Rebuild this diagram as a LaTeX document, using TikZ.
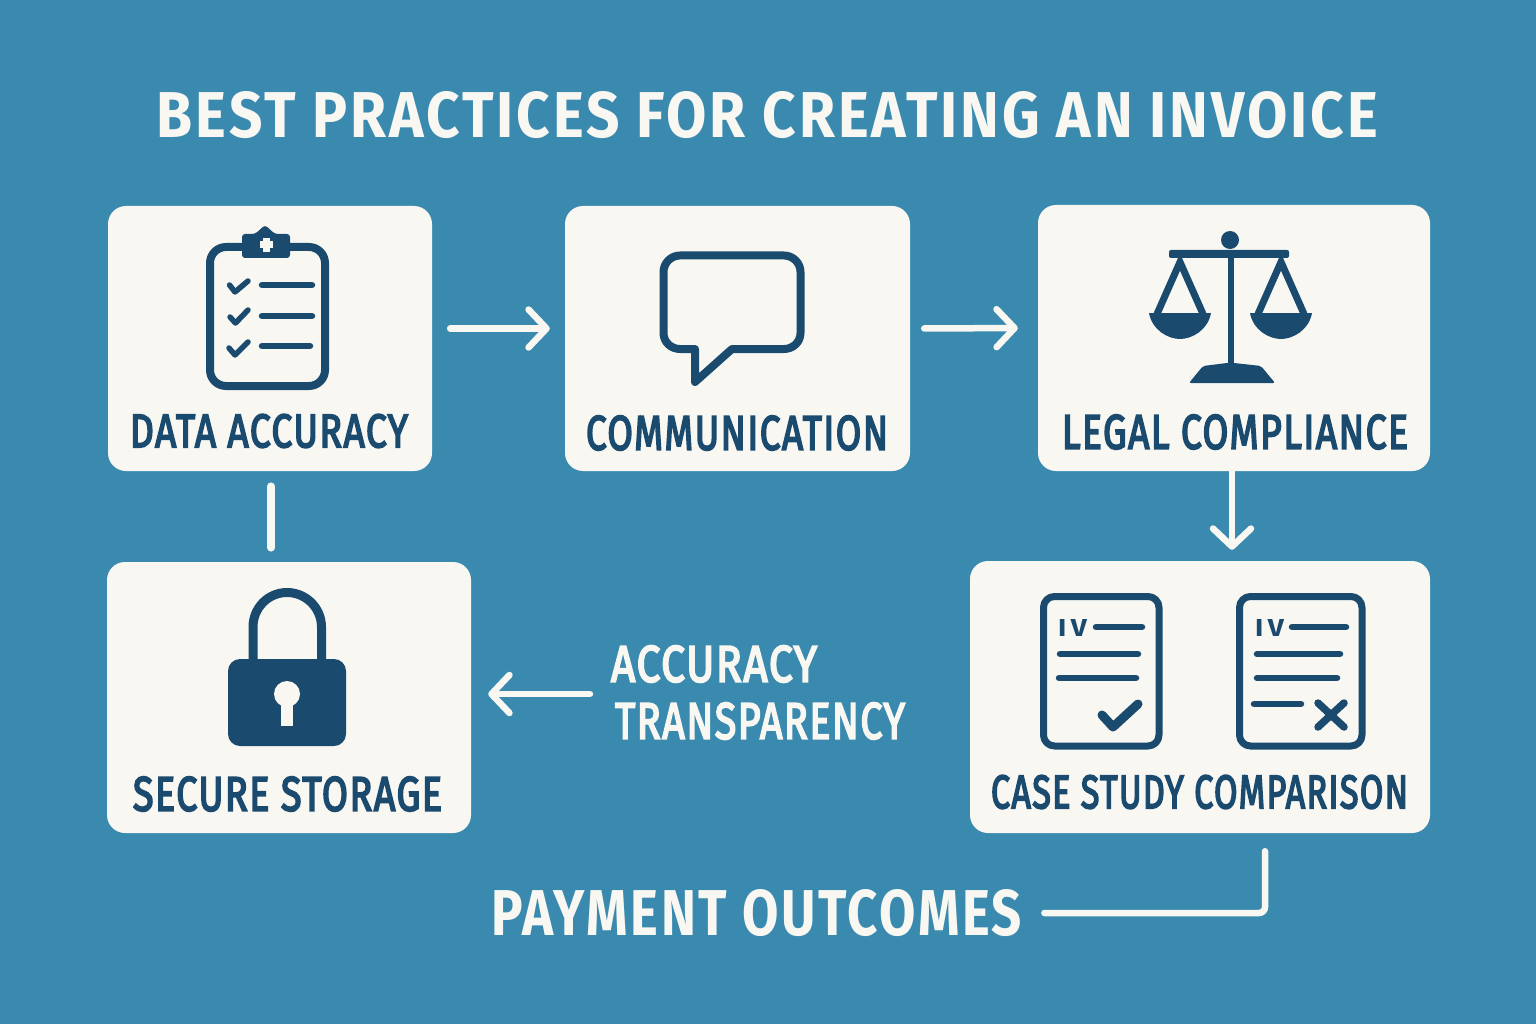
\documentclass[tikz,border=0pt]{standalone}
\usepackage{fontspec}
\usepackage{graphicx}
\setmainfont{Fira Sans}
\newfontfamily\lblfont[LetterSpace=4,FakeBold=4]{Fira Sans}
\newfontfamily\headfont[LetterSpace=5]{Fira Sans}
\usetikzlibrary{arrows.meta}
\definecolor{bgblue}{HTML}{3A8AB0}
\definecolor{paper}{HTML}{F8F7F2}
\definecolor{ink}{HTML}{1B4A6F}
\newcommand{\lbl}[3]{\resizebox{#1pt}{#2pt}{\lblfont #3}}
\newcommand{\hdl}[3]{\resizebox{#1pt}{#2pt}{\headfont\bfseries #3}}
\tikzset{
  box/.style={fill=paper,rounded corners=18pt,inner sep=0pt},
  inktext/.style={text=ink,inner sep=0pt},
  whitetext/.style={text=paper,inner sep=0pt},
  conn/.style={draw=paper,line width=6.5pt,line cap=round,line join=round},
  arrowed/.style={conn,-{Straight Barb[length=18pt,width=38pt,line width=6.5pt,round]}},
  thick line/.style={draw=ink,line width=7pt,line cap=round,line join=round},
  thin line/.style={draw=ink,line width=6.5pt,line cap=round,line join=round},
  check line/.style={draw=ink,line width=5.5pt,line cap=round,line join=round},
}
\begin{document}
\begin{tikzpicture}[x=1pt,y=-1pt]
\fill[bgblue] (0,0) rectangle (1536,1024);
\useasboundingbox (0,0) rectangle (1536,1024);

\node[whitetext] (title) at (767.5,115) {\hdl{1221}{46}{BEST PRACTICES FOR CREATING AN INVOICE}};

% boxes
\node[box,minimum width=324pt,minimum height=265pt] (data) at (270,338.5) {};
\node[box,minimum width=345pt,minimum height=265pt] (comm) at (737.5,338.5) {};
\node[box,minimum width=392pt,minimum height=266pt] (legal) at (1234,338) {};
\node[box,minimum width=364pt,minimum height=271pt] (secure) at (289,697.5) {};
\node[box,minimum width=460pt,minimum height=272pt] (case) at (1200,697) {};

% box labels
\node[inktext] (datal) at (269,431) {\lbl{278}{33}{DATA ACCURACY}};
\node[inktext] (comml) at (737,433) {\lbl{302}{34}{COMMUNICATION}};
\node[inktext] (legall) at (1235,432) {\lbl{346}{34}{LEGAL COMPLIANCE}};
\node[inktext] (securel) at (287.5,794) {\lbl{309}{34}{SECURE STORAGE}};
\node[inktext] (casel) at (1199.5,792) {\lbl{417}{33}{CASE STUDY COMPARISON}};

% free labels
\node[whitetext] (acc) at (714,664) {\lbl{206}{36}{ACCURACY}};
\node[whitetext] (trans) at (760,721) {\lbl{290}{36}{TRANSPARENCY}};
\node[whitetext] (pay) at (757,913) {\hdl{530}{46}{PAYMENT OUTCOMES}};
\coordinate (labelstart) at (590,694);

% connectors
\draw[arrowed,shorten <=18pt,shorten >=15pt] ([yshift=10pt]data.east) -- ([yshift=10pt]comm.west);
\draw[arrowed,shorten <=14pt,shorten >=20pt] ([yshift=10pt]comm.east) -- ([yshift=10pt]legal.west);
\draw[arrowed,shorten >=11pt] ([xshift=-2pt]legal.south) -- ([xshift=-2pt]legal.south |- case.north);
\draw[conn,line width=7.5pt,shorten <=15pt,shorten >=14pt] ([xshift=1pt]data.south) -- ([xshift=1pt]data.south |- secure.north);
\draw[arrowed,shorten >=17pt] (labelstart) -- (labelstart -| secure.east);
\draw[conn,rounded corners=6pt,shorten <=18pt,shorten >=22pt] ([xshift=65pt]case.south) |- (pay.east);

% clipboard
\draw[thick line,line width=8pt,rounded corners=16pt] (210,247) rectangle (325,386);
\fill[ink,rounded corners=3pt] (242,234) -- (255,234) -- (265,225) -- (275,234) -- (290,234) -- (290,258) -- (242,258) -- cycle;
\fill[paper] (263,238) rectangle (269.5,252);
\fill[paper] (259.5,241.5) rectangle (273,248.5);
\draw[check line] (229.5,285) -- (235,292) -- (248,281);
\draw[check line] (230,317) -- (235.5,323) -- (248,310);
\draw[check line] (229,348) -- (235,355) -- (248,342);
\draw[thin line] (262,285) -- (312,285);
\draw[thin line] (262,316) -- (312,316);
\draw[thin line] (262,346) -- (310,346);

% speech bubble
\draw[thick line,line width=8pt] (680,255.5) -- (784,255.5) .. controls (793,255.5) and (800.5,263) .. (800.5,272)
  -- (800.5,333) .. controls (800.5,342) and (793,349) .. (784,349) -- (732,349) -- (695,382) -- (695,349)
  -- (680,349) .. controls (671,349) and (663.5,342) .. (663.5,333) -- (663.5,272)
  .. controls (663.5,263) and (671,255.5) .. (680,255.5) -- cycle;

% scales
\fill[ink] (1230,240) circle (9pt);
\fill[ink,rounded corners=2pt] (1169,250) rectangle (1289,258);
\fill[ink] (1227.5,256) rectangle (1233.5,365);
\fill[ink,rounded corners=2pt] (1189,383) -- (1203,366) -- (1227,363) -- (1234,363) -- (1261,366) -- (1275,383) -- cycle;
\draw[thin line,line width=7pt,line cap=butt,line join=miter] (1157,314) -- (1180,262) -- (1203,314);
\draw[thin line,line width=7pt,line cap=butt,line join=miter] (1258,314) -- (1281,262) -- (1304,314);
\fill[ink] (1149,313) .. controls (1152,330) and (1168,339) .. (1180,339) .. controls (1192,339) and (1208,330) .. (1211,313) -- cycle;
\fill[ink] (1250,313) .. controls (1253,330) and (1269,339) .. (1281,339) .. controls (1293,339) and (1309,330) .. (1312,313) -- cycle;

% lock
\draw[draw=ink,line width=9pt] (253,660) -- (253,627) .. controls (253,608) and (268,592.5) .. (287,592.5) .. controls (306,592.5) and (321.5,608) .. (321.5,627) -- (321.5,660);
\fill[ink,rounded corners=12pt] (228,659) rectangle (346,746);
\fill[paper] (287,694) circle (13pt);
\fill[paper] (281,698) rectangle (293,726);

% documents
\draw[thick line,rounded corners=11pt] (1043.5,596.5) rectangle (1159,746);
\node[inktext] (ivleft) at (1072.5,627.5) {\hdl{29}{17}{I\,V}};
\draw[thin line] (1096,627) -- (1142,627);
\draw[thin line] (1060,654) -- (1138,654);
\draw[thin line] (1059,678) -- (1136,678);
\draw[thin line,line width=9pt] (1102,715) -- (1113,727) -- (1138,704);

\draw[thick line,rounded corners=11pt] (1239.5,596.5) rectangle (1362,746);
\node[inktext] (ivright) at (1269.5,627.5) {\hdl{29}{17}{I\,V}};
\draw[thin line] (1292,627) -- (1346,627);
\draw[thin line] (1257,654) -- (1340,654);
\draw[thin line] (1257,678) -- (1337,678);
\draw[thin line] (1254,704) -- (1301,704);
\draw[thin line,line width=7.5pt] (1318,703) -- (1344,727);
\draw[thin line,line width=7.5pt] (1344,703) -- (1318,727);
\end{tikzpicture}
\end{document}
